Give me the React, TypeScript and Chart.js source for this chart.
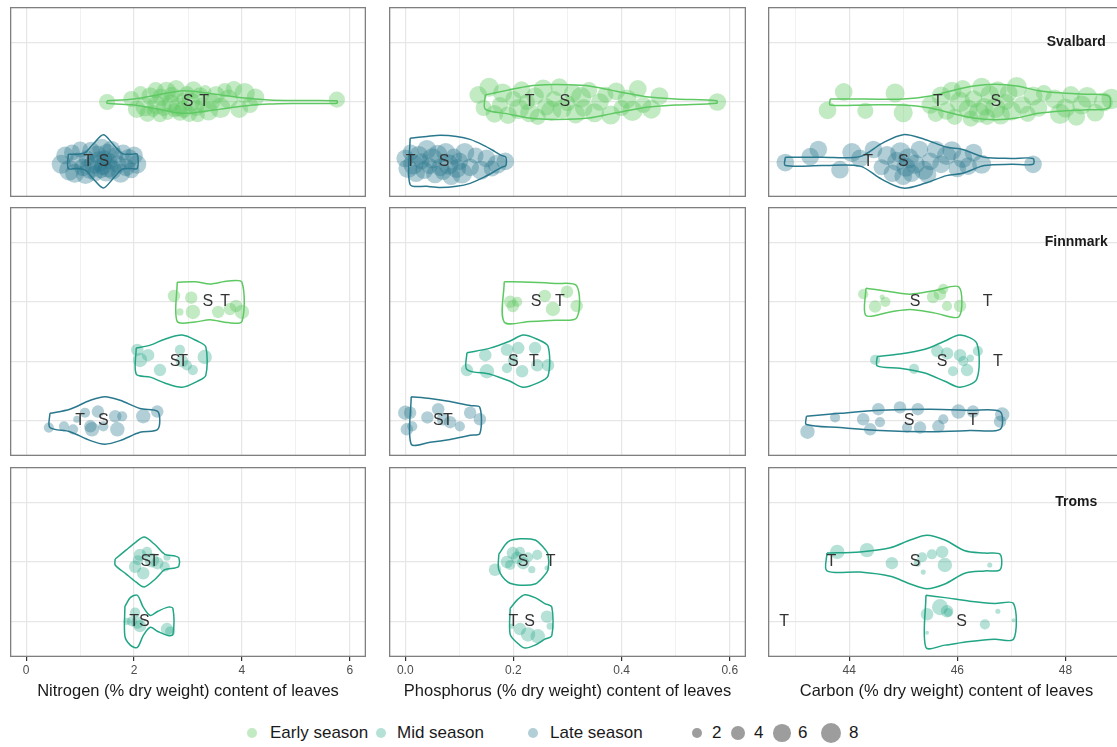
import React, { useEffect, useRef } from 'react';
import { Chart, registerables } from 'chart.js';

Chart.register(...registerables);

const FONT = '"Liberation Sans", Arial, Helvetica, sans-serif';

// ---------- axes ----------
const nitrogenRange = [-0.3, 6.3];
const nitrogenGrid = [0, 1, 2, 3, 4, 5, 6];
const nitrogenTickLabels = ['0', '', '2', '', '4', '', '6'];
const phosphorusRange = [-0.03, 0.63];
const phosphorusGrid = [0, 0.1, 0.2, 0.3, 0.4, 0.5, 0.6];
const phosphorusTickLabels = ['0.0', '', '0.2', '', '0.4', '', '0.6'];
const carbonRange = [42.5, 49.1];
const carbonGrid = [43, 44, 45, 46, 47, 48, 49];
const carbonTickLabels = ['', '44', '', '46', '', '48', ''];
const axisTitles = [
  'Nitrogen (% dry weight) content of leaves',
  'Phosphorus (% dry weight) content of leaves',
  'Carbon (% dry weight) content of leaves',
];
const regionNames = ['Svalbard', 'Finnmark', 'Troms'];
const regionCategories = [
  ['', 'Early', 'Late'],
  ['', 'Early', 'Mid', 'Late'],
  ['', 'Mid', 'Mid'],
];
const regionLabelX = 48.2;
const seasonNames = ['Early season', 'Mid season', 'Late season'];
const sizeLegendValues = [2, 4, 6, 8];

// ---------- Svalbard ----------
const svNEarlyX = [1.5, 5.76, 1.95, 2.05, 2.12, 2.2, 2.25, 2.3, 2.35, 2.4, 2.42, 2.48, 2.5, 2.55, 2.6, 2.62, 2.68, 2.7, 2.75, 2.78, 2.82, 2.85, 2.9, 2.92, 2.98, 3.02, 3.05, 3.1, 3.15, 3.18, 3.22, 3.28, 3.32, 3.38, 3.45, 3.52, 3.6, 3.68, 3.75, 3.85, 3.95, 4.05, 4.15, 4.25];
const svNEarlyJ = [0, -0.04, -0.05, 0.12, -0.15, 0.08, 0.2, -0.1, 0.15, -0.2, 0.05, 0.22, -0.08, 0.1, -0.18, 0.2, 0.02, -0.12, 0.14, -0.22, 0.08, 0.18, -0.05, 0.12, -0.15, 0.2, 0.0, -0.2, 0.1, 0.22, -0.1, 0.05, -0.18, 0.15, 0.0, -0.12, 0.1, -0.2, -0.05, -0.22, 0.12, -0.15, 0.05, -0.08];
const svNEarlyS = [5, 5, 5, 6, 4, 7, 5, 6, 3, 5, 7, 4, 6, 5, 7, 3, 6, 5, 4, 6, 7, 5, 3, 6, 4, 5, 7, 6, 5, 4, 6, 5, 3, 7, 5, 6, 8, 4, 7, 5, 6, 8, 5, 6];
const svNEarlyVX = [1.5, 2.0, 2.5, 2.9, 3.2, 3.6, 4.0, 4.5, 5.0, 5.76];
const svNEarlyVW = [0.02, 0.05, 0.13, 0.19, 0.17, 0.12, 0.07, 0.035, 0.025, 0.02];
const svNEarlyST = [3.0, 3.3];

const svNLateX = [0.65, 0.72, 0.8, 0.85, 0.9, 0.95, 1.0, 1.05, 1.1, 1.12, 1.18, 1.2, 1.25, 1.28, 1.32, 1.35, 1.38, 1.4, 1.42, 1.45, 1.48, 1.5, 1.52, 1.55, 1.58, 1.6, 1.65, 1.7, 1.75, 1.8, 1.85, 1.9, 1.95, 2.0, 2.05];
const svNLateJ = [0.05, -0.1, 0.15, -0.15, 0.2, 0.0, -0.2, 0.1, 0.22, -0.05, 0.12, -0.18, 0.05, 0.2, -0.12, 0.0, 0.15, -0.22, 0.08, -0.05, 0.18, -0.15, 0.1, 0.0, -0.2, 0.14, -0.1, 0.05, 0.2, -0.15, 0.1, -0.05, 0.15, -0.1, 0.05];
const svNLateS = [7, 6, 8, 5, 7, 6, 5, 6, 7, 5, 8, 6, 7, 5, 6, 8, 5, 7, 6, 5, 7, 6, 8, 5, 6, 7, 5, 6, 7, 5, 6, 7, 5, 6, 7];
const svNLateVX = [0.78, 0.95, 1.1, 1.25, 1.43, 1.6, 1.78, 1.95, 2.06];
const svNLateVW = [0.12, 0.12, 0.15, 0.3, 0.45, 0.3, 0.13, 0.12, 0.12];
const svNLateST = [1.44, 1.15];

const svPEarlyX = [0.135, 0.145, 0.155, 0.165, 0.175, 0.18, 0.19, 0.2, 0.21, 0.215, 0.225, 0.23, 0.24, 0.245, 0.255, 0.26, 0.27, 0.275, 0.285, 0.29, 0.3, 0.31, 0.315, 0.325, 0.33, 0.34, 0.35, 0.36, 0.37, 0.38, 0.39, 0.4, 0.41, 0.42, 0.43, 0.44, 0.455, 0.47, 0.577];
const svPEarlyJ = [-0.12, 0.1, -0.25, 0.2, 0.05, -0.15, 0.22, -0.05, 0.12, -0.2, 0.0, 0.18, -0.1, 0.25, -0.22, 0.08, 0.15, -0.05, -0.25, 0.12, 0.02, -0.15, 0.2, -0.08, 0.1, -0.2, 0.18, 0.0, -0.12, 0.22, -0.18, 0.1, -0.05, 0.15, -0.22, 0.05, 0.12, -0.1, 0];
const svPEarlyS = [6, 5, 7, 6, 5, 7, 6, 5, 8, 6, 5, 7, 6, 5, 7, 6, 8, 5, 6, 7, 5, 6, 7, 8, 6, 5, 7, 6, 5, 7, 6, 5, 7, 8, 6, 5, 7, 6, 6];
const svPEarlyVX = [0.148, 0.19, 0.23, 0.26, 0.3, 0.34, 0.38, 0.42, 0.45, 0.5, 0.576];
const svPEarlyVW = [0.12, 0.2, 0.27, 0.29, 0.29, 0.27, 0.2, 0.13, 0.085, 0.05, 0.02];
const svPEarlyST = [0.295, 0.23];

const svPLateX = [0.0, 0.005, 0.01, 0.015, 0.02, 0.025, 0.03, 0.035, 0.04, 0.045, 0.05, 0.055, 0.06, 0.065, 0.07, 0.075, 0.08, 0.085, 0.09, 0.095, 0.1, 0.105, 0.11, 0.12, 0.13, 0.14, 0.15, 0.16, 0.17, 0.185];
const svPLateJ = [-0.05, 0.12, -0.15, 0.05, 0.2, -0.1, 0.0, 0.15, -0.2, 0.08, -0.05, 0.22, -0.12, 0.1, 0.18, -0.15, 0.05, 0.25, -0.08, 0.12, 0.0, 0.2, -0.15, 0.1, -0.1, 0.15, -0.05, 0.12, 0.05, 0.0];
const svPLateS = [6, 7, 5, 8, 6, 7, 5, 6, 7, 5, 8, 6, 7, 6, 5, 7, 8, 6, 5, 7, 6, 8, 7, 6, 5, 7, 6, 5, 7, 6];
const svPLateVX = [0.009, 0.04, 0.065, 0.095, 0.12, 0.145, 0.165, 0.178, 0.186];
const svPLateVW = [0.39, 0.42, 0.44, 0.42, 0.37, 0.27, 0.17, 0.1, 0.07];
const svPLateST = [0.072, 0.01];

const svCEarlyX = [43.6, 43.9, 44.3, 44.85, 45.0, 45.5, 45.6, 45.7, 45.8, 45.9, 45.95, 46.05, 46.1, 46.2, 46.25, 46.3, 46.4, 46.45, 46.5, 46.55, 46.6, 46.7, 46.75, 46.8, 46.9, 46.95, 47.0, 47.1, 47.2, 47.3, 47.4, 47.5, 47.6, 47.8, 47.9, 48.0, 48.1, 48.2, 48.3, 48.4, 48.55, 48.7, 48.85];
const svCEarlyJ = [0.14, -0.17, 0.15, -0.15, 0.18, 0.05, 0.2, -0.1, 0.15, -0.18, 0.25, 0.0, -0.22, 0.12, 0.28, -0.05, 0.18, -0.25, 0.08, 0.25, -0.12, 0.1, -0.2, 0.22, 0.0, -0.15, 0.15, -0.25, 0.05, 0.2, -0.1, 0.1, -0.15, -0.05, 0.2, 0.1, -0.12, 0.25, 0.05, -0.08, 0.18, 0.0, -0.05];
const svCEarlyS = [6, 6, 5, 7, 7, 6, 5, 7, 6, 7, 5, 8, 6, 7, 5, 6, 8, 7, 6, 5, 7, 8, 6, 7, 5, 6, 7, 8, 6, 5, 7, 6, 5, 7, 8, 7, 6, 6, 7, 8, 6, 7, 8];
const svCEarlyVX = [43.65, 44.3, 45.0, 45.5, 45.9, 46.3, 46.7, 47.1, 47.5, 47.95, 48.4, 48.8];
const svCEarlyVW = [0.05, 0.05, 0.05, 0.1, 0.19, 0.27, 0.3, 0.27, 0.19, 0.15, 0.13, 0.1];
const svCEarlyST = [46.71, 45.64];

const svCLateX = [42.82, 43.28, 43.43, 43.83, 44.05, 44.2, 44.45, 44.6, 44.7, 44.8, 44.88, 44.95, 45.0, 45.05, 45.1, 45.15, 45.22, 45.3, 45.38, 45.5, 45.7, 45.8, 45.9, 46.0, 46.1, 46.2, 47.4, 46.3, 46.45, 45.45, 45.6];
const svCLateJ = [0.02, -0.08, -0.2, 0.14, -0.15, -0.05, -0.2, 0.1, -0.1, 0.2, 0.0, -0.15, 0.25, 0.1, -0.05, 0.2, 0.05, -0.2, 0.15, 0.0, 0.05, -0.1, -0.18, 0.12, -0.05, 0.08, 0.05, -0.15, 0.05, 0.22, -0.2];
const svCLateS = [6, 6, 6, 6, 7, 6, 6, 5, 7, 6, 7, 8, 6, 7, 8, 6, 7, 6, 7, 6, 6, 7, 7, 6, 7, 6, 6, 6, 7, 6, 6];
const svCLateVX = [42.82, 43.5, 44.2, 44.6, 45.0, 45.4, 45.8, 46.1, 46.5, 47.0, 47.4];
const svCLateVW = [0.07, 0.07, 0.08, 0.3, 0.45, 0.37, 0.24, 0.2, 0.07, 0.05, 0.05];
const svCLateST = [45.0, 44.35];

// ---------- Finnmark ----------
const fiNEarlyX = [2.74, 3.06, 3.09, 2.85, 3.56, 3.78, 3.89, 4.0];
const fiNEarlyJ = [-0.1, -0.07, 0.17, 0.17, 0.17, 0.12, 0.07, 0.17];
const fiNEarlyS = [3, 3, 4, 1, 3, 3, 3, 4];
const fiNEarlyVX = [2.8, 3.13, 3.41, 3.74, 4.0];
const fiNEarlyVW = [0.33, 0.34, 0.3, 0.35, 0.33];
const fiNEarlyST = [3.37, 3.69];

const fiNMidX = [2.06, 2.11, 2.26, 2.48, 2.85, 2.89, 2.98, 3.09, 3.31];
const fiNMidJ = [-0.19, -0.02, -0.1, 0.15, -0.19, 0, 0.07, 0.15, -0.07];
const fiNMidS = [3, 4, 3, 3, 2, 3, 2, 2, 4];
const fiNMidVX = [2.04, 2.3, 2.57, 2.89, 3.17, 3.33];
const fiNMidVW = [0.22, 0.27, 0.37, 0.44, 0.34, 0.24];
const fiNMidST = [2.76, 2.91];

const fiNLateX = [0.42, 0.7, 0.87, 1.09, 1.19, 1.33, 1.43, 1.65, 1.69, 1.78, 2.17, 2.43, 0.94, 1.22];
const fiNLateJ = [0.12, 0.1, 0.15, -0.13, 0.1, -0.15, 0.1, -0.07, 0.15, -0.07, -0.07, -0.15, -0.02, 0.15];
const fiNLateS = [2, 2, 2, 2, 3, 3, 2, 3, 4, 2, 4, 3, 1, 4];
const fiNLateVX = [0.44, 0.81, 1.19, 1.46, 1.74, 2.11, 2.44];
const fiNLateVW = [0.12, 0.19, 0.34, 0.4, 0.34, 0.2, 0.15];
const fiNLateST = [1.43, 1.0];

const fiPEarlyX = [0.194, 0.199, 0.207, 0.258, 0.273, 0.299, 0.317];
const fiPEarlyJ = [0, 0.07, 0, -0.1, 0.12, -0.17, 0.07];
const fiPEarlyS = [3, 3, 2, 3, 4, 3, 3];
const fiPEarlyVX = [0.183, 0.231, 0.277, 0.317];
const fiPEarlyVW = [0.34, 0.33, 0.31, 0.27];
const fiPEarlyST = [0.242, 0.286];

const fiPMidX = [0.114, 0.148, 0.151, 0.188, 0.209, 0.188, 0.216, 0.24, 0.244, 0.264, 0.199];
const fiPMidJ = [0.15, -0.1, 0.17, -0.19, -0.22, 0.12, 0.17, -0.22, 0.07, 0.07, -0.02];
const fiPMidS = [3, 3, 4, 3, 3, 2, 3, 3, 3, 3, 2];
const fiPMidVX = [0.114, 0.157, 0.194, 0.218, 0.244, 0.264];
const fiPMidVW = [0.14, 0.22, 0.34, 0.44, 0.37, 0.25];
const fiPMidST = [0.2, 0.238];

const fiPLateX = [0.009, 0.013, 0.041, 0.061, 0.083, 0.101, 0.12, 0.138, 0.07, 0.0, 0.003];
const fiPLateJ = [-0.13, 0.1, -0.05, -0.19, 0.03, 0.1, -0.13, -0.02, -0.02, -0.13, 0.15];
const fiPLateS = [3, 2, 3, 3, 3, 2, 3, 3, 3, 4, 3];
const fiPLateVX = [0.011, 0.046, 0.083, 0.12, 0.138];
const fiPLateVW = [0.4, 0.37, 0.32, 0.25, 0.22];
const fiPLateST = [0.061, 0.079];

const fiCEarlyX = [44.26, 44.48, 44.67, 44.61, 45.68, 45.55, 45.81, 46.05, 45.74];
const fiCEarlyJ = [-0.13, 0.08, 0, -0.08, -0.13, -0.08, 0.07, 0.07, -0.22];
const fiCEarlyS = [2, 3, 2, 0.5, 3, 3, 2, 3, 2];
const fiCEarlyVX = [44.31, 44.76, 45.13, 45.59, 46.03];
const fiCEarlyVW = [0.23, 0.17, 0.13, 0.19, 0.25];
const fiCEarlyST = [45.22, 46.56];

const fiCMidX = [44.48, 45.2, 45.63, 45.81, 46.05, 46.11, 46.18, 45.92, 46.38, 46.24];
const fiCMidJ = [-0.02, 0.13, -0.17, -0.13, -0.1, 0, 0.15, 0.17, -0.17, -0.05];
const fiCMidS = [2, 2, 3, 3, 3, 2, 3, 2, 2, 1];
const fiCMidVX = [44.52, 44.94, 45.4, 45.77, 46.05, 46.36];
const fiCMidVW = [0.08, 0.12, 0.2, 0.34, 0.44, 0.3];
const fiCMidST = [45.72, 46.75];

const fiCLateX = [43.23, 43.74, 44.26, 44.39, 44.54, 44.57, 44.94, 45.07, 45.27, 45.31, 45.65, 45.74, 46.02, 46.29, 46.83, 46.79];
const fiCLateJ = [0.19, -0.05, -0.02, 0.15, -0.19, 0.03, -0.22, 0.12, -0.19, 0.12, 0.1, -0.02, -0.15, -0.15, -0.1, 0.02];
const fiCLateS = [4, 2, 3, 3, 3, 2, 3, 2, 3, 3, 3, 2, 4, 3, 4, 3];
const fiCLateVX = [43.21, 43.83, 44.57, 45.49, 46.23, 46.79];
const fiCLateVW = [0.07, 0.12, 0.17, 0.19, 0.17, 0.15];
const fiCLateST = [45.11, 46.29];

// ---------- Troms ----------
const trNMid1X = [2.11, 2.24, 2.02, 2.43, 2.57, 2.17, 2.33, 2.07, 2.61];
const trNMid1J = [-0.12, -0.17, 0.08, 0.02, 0.08, 0.19, -0.03, -0.03, -0.08];
const trNMid1S = [3, 2, 3, 3, 2, 3, 4, 2, 1];
const trNMid1VX = [1.65, 1.85, 2.04, 2.19, 2.39, 2.57, 2.76, 2.83];
const trNMid1VW = [0.05, 0.2, 0.34, 0.42, 0.29, 0.13, 0.1, 0.07];
const trNMid1ST = [2.22, 2.37];

const trNMid2X = [2.02, 2.06, 2.11, 1.96, 2.61, 2.67, 1.87];
const trNMid2J = [-0.15, 0.02, 0.08, 0, 0.13, 0.17, 0];
const trNMid2S = [2, 3, 3, 2, 3, 2, 1];
const trNMid2VX = [1.83, 1.93, 2.06, 2.17, 2.3, 2.44, 2.63, 2.72];
const trNMid2VW = [0.25, 0.4, 0.44, 0.24, 0.1, 0.17, 0.24, 0.22];
const trNMid2ST = [2.19, 2.0];

const trPMid1X = [0.166, 0.188, 0.199, 0.212, 0.227, 0.244, 0.218, 0.194, 0.234, 0.207, 0.262];
const trPMid1J = [0.13, 0, -0.15, -0.17, -0.08, -0.12, 0.02, 0.05, 0.13, -0.07, 0.1];
const trPMid1S = [3, 3, 3, 2, 2, 2, 3, 2, 1, 3, 0.5];
const trPMid1VX = [0.173, 0.19, 0.212, 0.24, 0.256, 0.264];
const trPMid1VW = [0.13, 0.34, 0.39, 0.37, 0.24, 0.13];
const trPMid1ST = [0.218, 0.269];

const trPMid2X = [0.212, 0.227, 0.245, 0.262, 0.268, 0.197];
const trPMid2J = [0.13, 0.22, 0.25, -0.08, 0.08, 0.08];
const trPMid2S = [3, 4, 4, 3, 1, 0.5];
const trPMid2VX = [0.194, 0.208, 0.221, 0.24, 0.258, 0.271];
const trPMid2VW = [0.22, 0.37, 0.45, 0.4, 0.3, 0.24];
const trPMid2ST = [0.23, 0.2];

const trCMid1X = [43.78, 44.33, 44.79, 45.35, 45.53, 45.72, 45.77, 45.37, 46.6, 45.26];
const trCMid1J = [-0.17, -0.2, 0.02, -0.08, -0.13, -0.17, 0.05, 0.17, 0.05, 0.02];
const trCMid1S = [4, 4, 3, 2, 2, 3, 4, 0.5, 0.5, 1];
const trCMid1VX = [43.59, 44.2, 44.76, 45.13, 45.44, 45.77, 46.14, 46.51, 46.79];
const trCMid1VW = [0.15, 0.17, 0.24, 0.37, 0.45, 0.37, 0.19, 0.15, 0.13];
const trCMid1ST = [45.22, 43.67];

const trCMid2X = [45.44, 45.68, 45.81, 45.83, 46.51, 46.75, 45.44, 47.04];
const trCMid2J = [-0.12, -0.24, -0.17, -0.15, 0.05, -0.17, 0.19, -0.02];
const trCMid2S = [3, 5, 3, 1.5, 2, 0.5, 0.3, 0.3];
const trCMid2VX = [45.42, 45.77, 46.23, 46.69, 47.04];
const trCMid2VW = [0.44, 0.4, 0.34, 0.3, 0.3];
const trCMid2ST = [46.08, 42.8];

// ---------- styles ----------
const seasonLine = ['#5ec962', '#21a585', '#2a788e'];
const seasonFill = ['rgba(94,201,98,0.38)', 'rgba(33,165,133,0.33)', 'rgba(42,120,142,0.36)'];
const colLeft = [10, 389, 768];
const colWidth = [356, 357, 357];
const rowTop = [7, 207, 467];
const rowHeight = [190, 249, 190];
const bottomAxisHeight = 24;

type Group = { season: number; cat: number; x: number[]; j: number[]; s: number[]; vx: number[]; vw: number[]; st: number[] };
type Panel = { row: number; col: number; groups: Group[] };

const g = (season: number, cat: number, x: number[], j: number[], s: number[], vx: number[], vw: number[], st: number[]): Group => ({ season, cat, x, j, s, vx, vw, st });

const panels: Panel[] = [
  { row: 0, col: 0, groups: [g(0, 1, svNEarlyX, svNEarlyJ, svNEarlyS, svNEarlyVX, svNEarlyVW, svNEarlyST), g(2, 2, svNLateX, svNLateJ, svNLateS, svNLateVX, svNLateVW, svNLateST)] },
  { row: 0, col: 1, groups: [g(0, 1, svPEarlyX, svPEarlyJ, svPEarlyS, svPEarlyVX, svPEarlyVW, svPEarlyST), g(2, 2, svPLateX, svPLateJ, svPLateS, svPLateVX, svPLateVW, svPLateST)] },
  { row: 0, col: 2, groups: [g(0, 1, svCEarlyX, svCEarlyJ, svCEarlyS, svCEarlyVX, svCEarlyVW, svCEarlyST), g(2, 2, svCLateX, svCLateJ, svCLateS, svCLateVX, svCLateVW, svCLateST)] },
  { row: 1, col: 0, groups: [g(0, 1, fiNEarlyX, fiNEarlyJ, fiNEarlyS, fiNEarlyVX, fiNEarlyVW, fiNEarlyST), g(1, 2, fiNMidX, fiNMidJ, fiNMidS, fiNMidVX, fiNMidVW, fiNMidST), g(2, 3, fiNLateX, fiNLateJ, fiNLateS, fiNLateVX, fiNLateVW, fiNLateST)] },
  { row: 1, col: 1, groups: [g(0, 1, fiPEarlyX, fiPEarlyJ, fiPEarlyS, fiPEarlyVX, fiPEarlyVW, fiPEarlyST), g(1, 2, fiPMidX, fiPMidJ, fiPMidS, fiPMidVX, fiPMidVW, fiPMidST), g(2, 3, fiPLateX, fiPLateJ, fiPLateS, fiPLateVX, fiPLateVW, fiPLateST)] },
  { row: 1, col: 2, groups: [g(0, 1, fiCEarlyX, fiCEarlyJ, fiCEarlyS, fiCEarlyVX, fiCEarlyVW, fiCEarlyST), g(1, 2, fiCMidX, fiCMidJ, fiCMidS, fiCMidVX, fiCMidVW, fiCMidST), g(2, 3, fiCLateX, fiCLateJ, fiCLateS, fiCLateVX, fiCLateVW, fiCLateST)] },
  { row: 2, col: 0, groups: [g(1, 1, trNMid1X, trNMid1J, trNMid1S, trNMid1VX, trNMid1VW, trNMid1ST), g(1, 2, trNMid2X, trNMid2J, trNMid2S, trNMid2VX, trNMid2VW, trNMid2ST)] },
  { row: 2, col: 1, groups: [g(1, 1, trPMid1X, trPMid1J, trPMid1S, trPMid1VX, trPMid1VW, trPMid1ST), g(1, 2, trPMid2X, trPMid2J, trPMid2S, trPMid2VX, trPMid2VW, trPMid2ST)] },
  { row: 2, col: 2, groups: [g(1, 1, trCMid1X, trCMid1J, trCMid1S, trCMid1VX, trCMid1VW, trCMid1ST), g(1, 2, trCMid2X, trCMid2J, trCMid2S, trCMid2VX, trCMid2VW, trCMid2ST)] },
];

const axes = [
  { range: nitrogenRange, grid: nitrogenGrid, labels: nitrogenTickLabels },
  { range: phosphorusRange, grid: phosphorusGrid, labels: phosphorusTickLabels },
  { range: carbonRange, grid: carbonGrid, labels: carbonTickLabels },
];

const sizeToRadius = (s: number) => 3.6 * Math.sqrt(s);

function decoPlugin(p: Panel) {
  return {
    id: 'panelDeco',
    afterDatasetsDraw(chart: any) {
      const { ctx, chartArea, scales } = chart;
      ctx.save();
      ctx.fillStyle = '#333333';
      ctx.font = '16px ' + FONT;
      ctx.textAlign = 'center';
      ctx.textBaseline = 'middle';
      p.groups.forEach((gr) => {
        const y = scales.y.getPixelForValue(gr.cat);
        ctx.fillText('S', scales.x.getPixelForValue(gr.st[0]), y);
        ctx.fillText('T', scales.x.getPixelForValue(gr.st[1]), y);
      });
      if (p.col === 2) {
        ctx.fillStyle = '#1a1a1a';
        ctx.font = 'bold 14px ' + FONT;
        ctx.fillText(regionNames[p.row], scales.x.getPixelForValue(regionLabelX), scales.y.getPixelForValue(0));
      }
      ctx.strokeStyle = '#7f7f7f';
      ctx.lineWidth = 1.3;
      ctx.strokeRect(chartArea.left + 0.65, chartArea.top + 0.65, chartArea.right - chartArea.left - 1.3, chartArea.bottom - chartArea.top - 1.3);
      ctx.restore();
    },
  };
}

function buildConfig(p: Panel): any {
  const axis = axes[p.col];
  const cats = regionCategories[p.row];
  const bottom = p.row === 2;
  const datasets: any[] = [];
  p.groups.forEach((gr) => {
    const top = gr.vx.map((x, i) => ({ x, y: gr.cat - gr.vw[i] }));
    const bot = gr.vx.map((x, i) => ({ x, y: gr.cat + gr.vw[i] })).reverse();
    datasets.push({
      type: 'line',
      data: [...top, ...bot, top[0]],
      borderColor: seasonLine[gr.season],
      borderWidth: 1.5,
      pointRadius: 0,
      fill: false,
      tension: 0.3,
      clip: 0,
      order: 0,
    });
  });
  p.groups.forEach((gr) => {
    datasets.push({
      type: 'bubble',
      data: gr.x.map((x, i) => ({ x, y: gr.cat + gr.j[i], r: sizeToRadius(gr.s[i]) })),
      backgroundColor: seasonFill[gr.season],
      borderWidth: 0,
      clip: 0,
      order: 1,
    });
  });
  return {
    type: 'bubble',
    data: { datasets },
    options: {
      responsive: false,
      animation: false,
      events: [],
      layout: { padding: 0, autoPadding: false },
      plugins: { legend: { display: false }, tooltip: { enabled: false } },
      scales: {
        x: {
          type: 'linear',
          min: axis.range[0],
          max: axis.range[1],
          afterBuildTicks: (s: any) => {
            s.ticks = axis.grid.map((v) => ({ value: v }));
          },
          ticks: {
            display: bottom,
            callback: (_v: any, i: number) => axis.labels[i],
            font: { size: 12, family: FONT },
            color: '#4d4d4d',
            padding: 2,
            maxRotation: 0,
            autoSkip: false,
          },
          grid: {
            color: (c: any) => (axis.labels[c.index] ? '#e6e6e6' : '#efefef'),
            lineWidth: (c: any) => (axis.labels[c.index] ? 1.2 : 0.9),
            drawTicks: bottom,
            tickLength: 4,
            tickColor: (c: any) => (axis.labels[c.index] ? '#333333' : 'rgba(0,0,0,0)'),
            tickWidth: 1.2,
          },
          border: { display: false },
          afterFit: (s: any) => {
            s.height = bottom ? bottomAxisHeight : 0;
          },
        },
        y: {
          type: 'linear',
          reverse: true,
          min: -0.6,
          max: cats.length - 1 + 0.6,
          afterBuildTicks: (s: any) => {
            s.ticks = cats.map((_c, i) => ({ value: i }));
          },
          ticks: { display: false },
          grid: { color: '#e6e6e6', lineWidth: 1.2, drawTicks: false },
          border: { display: false },
          afterFit: (s: any) => {
            s.width = 0;
          },
        },
      },
    },
    plugins: [decoPlugin(p)],
  };
}

const legendSeasonDotX = [252, 381, 533];
const legendSeasonTextX = [270, 397, 550];
const legendSizeDotX = [697, 738, 782, 831];
const legendSizeTextX = [712, 754, 798, 849];
const legendY = 733;

export default function App() {
  const refs = useRef<(HTMLCanvasElement | null)[]>([]);
  useEffect(() => {
    const charts = panels.map((p, i) => new Chart(refs.current[i] as HTMLCanvasElement, buildConfig(p)));
    return () => charts.forEach((c) => c.destroy());
  }, []);

  return (
    <div style={{ position: 'fixed', left: 0, top: 0, width: 1117, height: 747, overflow: 'hidden', background: '#ffffff', fontFamily: FONT }}>
      {panels.map((p, i) => {
        const h = rowHeight[p.row] + (p.row === 2 ? bottomAxisHeight : 0);
        return (
          <canvas
            key={i}
            ref={(el) => {
              refs.current[i] = el;
            }}
            width={colWidth[p.col]}
            height={h}
            style={{ position: 'absolute', left: colLeft[p.col], top: rowTop[p.row], width: colWidth[p.col], height: h }}
          />
        );
      })}
      {axisTitles.map((t, i) => (
        <div key={t} style={{ position: 'absolute', left: colLeft[i] + colWidth[i] / 2 - 220, width: 440, top: 680, textAlign: 'center', fontSize: 16.5, lineHeight: '20px', color: '#1a1a1a', whiteSpace: 'nowrap' }}>
          {t}
        </div>
      ))}
      {seasonNames.map((n, i) => (
        <React.Fragment key={n}>
          <div style={{ position: 'absolute', left: legendSeasonDotX[i] - 5, top: legendY - 5, width: 10, height: 10, borderRadius: '50%', background: seasonFill[i] }} />
          <div style={{ position: 'absolute', left: legendSeasonTextX[i], top: legendY - 10, fontSize: 17, lineHeight: '20px', color: '#1a1a1a', whiteSpace: 'nowrap' }}>{n}</div>
        </React.Fragment>
      ))}
      {sizeLegendValues.map((v, i) => {
        const r = sizeToRadius(v);
        return (
          <React.Fragment key={v}>
            <div style={{ position: 'absolute', left: legendSizeDotX[i] - r, top: legendY - r, width: 2 * r, height: 2 * r, borderRadius: '50%', background: 'rgba(60,60,60,0.5)' }} />
            <div style={{ position: 'absolute', left: legendSizeTextX[i], top: legendY - 10, fontSize: 17, lineHeight: '20px', color: '#1a1a1a' }}>{v}</div>
          </React.Fragment>
        );
      })}
    </div>
  );
}
